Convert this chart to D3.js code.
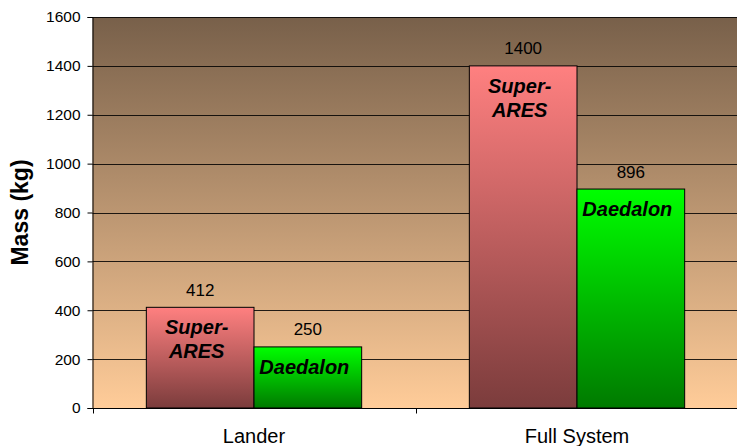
<!DOCTYPE html>
<html>
<head>
<meta charset="utf-8">
<script src="https://cdn.jsdelivr.net/npm/d3@7"></script>
<style>
  html, body { margin: 0; padding: 0; background: #fff; }
  svg { display: block; font-family: Arial, "Liberation Sans", sans-serif; }
</style>
</head>
<body>
<svg id="chart" width="737" height="446"></svg>
<script>
// Mass comparison data
const categories = ["Lander", "Full System"];
const seriesNames = ["Super-ARES", "Daedalon"];
const superAres = [412, 1400];
const daedalon = [250, 896];
const yTicks = [0, 200, 400, 600, 800, 1000, 1200, 1400, 1600];

const svg = d3.select("#chart");
const W = 737, H = 446;
const x0 = 92.5, x1 = 738.5;
const y0 = 408, y1 = 17;

const x = d3.scaleBand().domain(categories).range([x0, x1]).paddingInner(0).paddingOuter(0);
const xs = d3.scaleBand().domain(seriesNames).range([0, x.bandwidth()]).paddingInner(0).paddingOuter(0.5);
const y = d3.scaleLinear().domain([0, 1600]).range([y0, y1]);

const defs = svg.append("defs");
function vgrad(id, top, bottom) {
  const g = defs.append("linearGradient").attr("id", id)
    .attr("x1", 0).attr("y1", 0).attr("x2", 0).attr("y2", 1);
  g.append("stop").attr("offset", "0%").attr("stop-color", top);
  g.append("stop").attr("offset", "100%").attr("stop-color", bottom);
}
vgrad("bg", "#78604a", "#ffcc99");
vgrad("gSuper", "#ff8080", "#7b3c3c");
vgrad("gDaed", "#00ff00", "#007a00");

// plot background
svg.append("rect").attr("x", x0).attr("y", y1).attr("width", x1 - x0).attr("height", y0 - y1)
  .attr("fill", "url(#bg)");

// gridlines
svg.append("g").selectAll("line").data(yTicks.filter(d => d > 0)).join("line")
  .attr("x1", x0).attr("x2", x1)
  .attr("y1", d => Math.round(y(d)) + 0.5).attr("y2", d => Math.round(y(d)) + 0.5)
  .attr("stroke", "#000").attr("stroke-width", 1).attr("stroke-opacity", 0.85);

// bars
const series = [
  { name: "Super-ARES", values: superAres, fill: "url(#gSuper)", lines: ["Super-", "ARES"] },
  { name: "Daedalon", values: daedalon, fill: "url(#gDaed)", lines: ["Daedalon"] }
];

const barData = [];
series.forEach(s => categories.forEach((c, i) => barData.push({ s, c, v: s.values[i] })));

const bars = svg.append("g");
bars.selectAll("rect").data(barData).join("rect")
  .attr("x", d => x(d.c) + xs(d.s.name))
  .attr("y", d => y(d.v))
  .attr("width", xs.bandwidth())
  .attr("height", d => y(0) - y(d.v))
  .attr("fill", d => d.s.fill)
  .attr("stroke", "#000").attr("stroke-width", 1);

// value labels above bars
bars.selectAll("text.val").data(barData).join("text").attr("class", "val")
  .attr("x", d => x(d.c) + xs(d.s.name) + xs.bandwidth() / 2)
  .attr("y", d => y(d.v) - 11.5)
  .attr("text-anchor", "middle").attr("font-size", 17).attr("fill", "#000")
  .text(d => d.v);

// series names inside bars
bars.selectAll("text.nm").data(barData).join("text").attr("class", "nm")
  .attr("x", d => x(d.c) + xs(d.s.name) + xs.bandwidth() / 2 - 3.5)
  .attr("y", d => y(d.v) + 27)
  .attr("text-anchor", "middle").attr("font-size", 20)
  .attr("font-weight", "bold").attr("font-style", "italic").attr("fill", "#000")
  .each(function(d) {
    const t = d3.select(this);
    d.s.lines.forEach((ln, k) => t.append("tspan").attr("x", t.attr("x")).attr("dy", k === 0 ? 0 : 24).text(ln));
  });

// y axis
const yAxis = d3.axisLeft(y).tickValues(yTicks).tickFormat(d3.format("d")).tickSize(5).tickPadding(7);
const gy = svg.append("g").attr("transform", `translate(${x0},0)`).call(yAxis);
gy.select(".domain").attr("stroke", "#000");
gy.selectAll(".tick line").attr("stroke", "#000");
gy.selectAll(".tick text").attr("font-size", 15.5).attr("fill", "#000")
  .attr("font-family", "Arial, 'Liberation Sans', sans-serif");

// x axis
const gx = svg.append("g").attr("transform", `translate(0,${y0 + 0.5})`);
gx.append("line").attr("x1", x0).attr("x2", x1).attr("stroke", "#000");
gx.selectAll("line.tk").data(categories).join("line").attr("class", "tk")
  .attr("x1", d => Math.round(x(d)) + 0.5).attr("x2", d => Math.round(x(d)) + 0.5)
  .attr("y1", 0).attr("y2", 5).attr("stroke", "#000");
gx.selectAll("text").data(categories).join("text")
  .attr("x", d => x(d) + x.bandwidth() / 2)
  .attr("y", 443 - y0 - 0.5)
  .attr("text-anchor", "middle").attr("font-size", 20).attr("fill", "#000")
  .text(d => d);

// y axis title
svg.append("text")
  .attr("transform", `translate(28,${(y0 + y1) / 2}) rotate(-90)`)
  .attr("text-anchor", "middle").attr("font-size", 23).attr("font-weight", "bold")
  .attr("fill", "#000")
  .text("Mass (kg)");
</script>
</body>
</html>
